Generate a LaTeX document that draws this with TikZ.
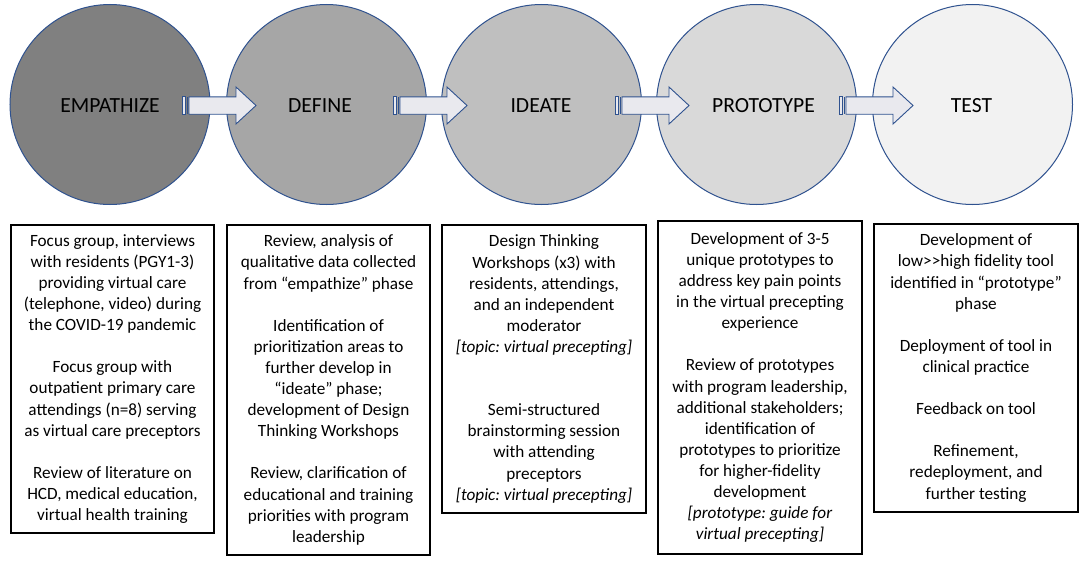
\documentclass[tikz,border=0pt]{standalone}
\usepackage{fontspec}
\setmainfont{Carlito}
\frenchspacing
\definecolor{edgeblue}{RGB}{47,82,143}
\definecolor{arrowfill}{RGB}{233,233,238}
\definecolor{g1}{RGB}{128,128,128}
\definecolor{g2}{RGB}{166,166,166}
\definecolor{g3}{RGB}{191,191,191}
\definecolor{g4}{RGB}{217,217,217}
\definecolor{g5}{RGB}{242,242,242}
\tikzset{
  pics/stripedarrow/.style={code={
    \filldraw[fill=arrowfill, draw=edgeblue, line width=0.8pt] (0,-8.7) rectangle (3,8.7);
    \fill[edgeblue] (4.6,-8.7) rectangle (6.1,8.7);
    \filldraw[fill=arrowfill, draw=edgeblue, line width=0.9pt]
      (7,-8.7) -- (54,-8.7) -- (54,-18.5) -- (74,0) -- (54,18.5) -- (54,8.7) -- (7,8.7) -- cycle;
  }}
}
\begin{document}
\begin{tikzpicture}[x=1pt,y=-1pt,
  phase/.style={circle, draw=edgeblue, line width=1pt, minimum size=200pt, inner sep=0pt},
  plabel/.style={font=\fontsize{21.6}{26}\selectfont, inner sep=0pt, anchor=center},
  infobox/.style={draw=black, line width=1.8pt, align=center, inner sep=0pt,
    font=\fontsize{17.2}{21.1}\selectfont},
]
\useasboundingbox (0,0) rectangle (1084,562);
% phase circles
\node[phase, fill=g1] (emp) at (110,104.5) {};
\node[phase, fill=g2] (def) at (326.5,104.5) {};
\node[phase, fill=g3] (ide) at (541.5,104.5) {};
\node[phase, fill=g4] (pro) at (756.5,104.5) {};
\node[phase, fill=g5] (tst) at (972.5,104.5) {};
\node[plabel] (empL) at (110,106) {EMPATHIZE};
\node[plabel] (defL) at (320,106) {DEFINE};
\node[plabel] (ideL) at (541,106) {IDEATE};
\node[plabel] (proL) at (763.5,106) {PROTOTYPE};
\node[plabel] (tstL) at (971.5,106) {TEST};
% arrows
\coordinate (a1) at (182,105.5);
\coordinate (a2) at (393,105.5);
\coordinate (a3) at (615,105.5);
\coordinate (a4) at (839,105.5);
\pic at (a1) {stripedarrow};
\pic at (a2) {stripedarrow};
\pic at (a3) {stripedarrow};
\pic at (a4) {stripedarrow};
% boxes
\node[infobox, minimum width=203pt, minimum height=308pt] (b1) at (112.5,379) {%
Focus group, interviews\\ with residents (PGY1-3)\\ providing virtual care\\ (telephone, video) during\\ the COVID-19 pandemic\\[21.1pt]
Focus group with\\ outpatient primary care\\ attendings (n=8) serving\\ as virtual care preceptors\\[21.1pt]
Review of literature on\\ HCD, medical education,\\ virtual health training};
\node[infobox, minimum width=203pt, minimum height=330pt] (b2) at (328.5,390) {%
Review, analysis of\\ qualitative data collected\\ from “empathize” phase\\[21.1pt]
Identification of\\ prioritization areas to\\ further develop in\\ “ideate” phase;\\ development of Design\\ Thinking Workshops\\[21.1pt]
Review, clarification of\\ educational and training\\ priorities with program\\ leadership};
\node[infobox, minimum width=204pt, minimum height=288pt] (b3) at (544,369) {%
Design Thinking\\ Workshops (x3) with\\ residents, attendings,\\ and an independent\\ moderator\\ \textit{[topic: virtual precepting]}\\[42.2pt]
Semi-structured\\ brainstorming session\\ with attending\\ preceptors\\ \textit{[topic: virtual precepting]}};
\node[infobox, minimum width=204pt, minimum height=333pt] (b4) at (760,387.5) {%
Development of 3-5\\ unique prototypes to\\ address key pain points\\ in the virtual precepting\\ experience\\[21.1pt]
Review of prototypes\\ with program leadership,\\ additional stakeholders;\\ identification of\\ prototypes to prioritize\\ for higher-fidelity\\ development\\ \textit{[prototype: guide for}\\ \textit{virtual precepting]}};
\node[infobox, minimum width=204pt, minimum height=288pt] (b5) at (976,368) {%
Development of\\ low>\kern0pt>high fidelity tool\\ identified in “prototype”\\ phase\\[21.1pt]
Deployment of tool in\\ clinical practice\\[21.1pt]
Feedback on tool\\[21.1pt]
Refinement,\\ redeployment, and\\ further testing};
\end{tikzpicture}
\end{document}
